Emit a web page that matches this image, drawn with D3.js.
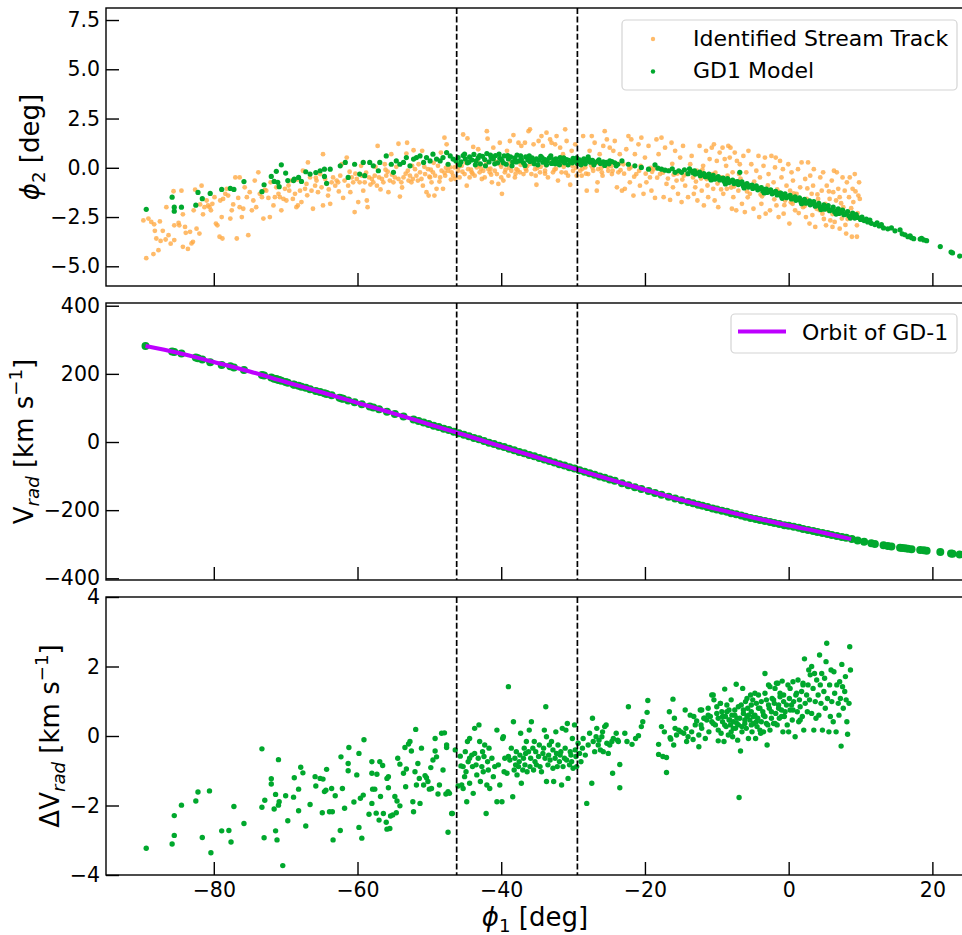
<!DOCTYPE html>
<html>
<head>
<meta charset="utf-8">
<script src="https://cdn.jsdelivr.net/npm/d3@7"></script>
<style>
  body { margin: 0; background: #fff; }
  svg { display: block; font-family: "DejaVu Sans", sans-serif; }
</style>
</head>
<body>
<div id="chart"></div>
<script>
// ---- data ----
// Identified stream track [phi1, phi2]
const trackPts = [
  [-89.8,-2.67],[-89.4,-4.59],[-89.1,-2.58],[-88.7,-2.75],[-88.4,-4.38],[-88.3,-2.87],[-88.2,-3.2],[-88.0,-3.59],[-87.7,-4.18],[-87.5,-2.72],
  [-87.4,-3.71],[-87.1,-3.2],[-86.7,-3.64],[-86.6,-2.0],[-86.3,-3.42],[-86.0,-3.85],[-85.6,-1.19],[-85.5,-2.92],[-85.5,-3.67],[-84.9,-2.8],
  [-84.8,-2.92],[-84.5,-1.16],[-84.3,-2.36],[-84.3,-4.01],[-84.0,-3.0],[-83.9,-3.3],[-83.6,-4.12],[-83.3,-3.25],[-83.1,-3.84],[-82.9,-3.76],
  [-82.8,-2.16],[-82.6,-1.11],[-82.4,-3.09],[-82.0,-3.34],[-81.9,-1.86],[-81.7,-0.91],[-81.5,-2.36],[-81.3,-2.0],[-81.0,-1.66],[-80.8,-1.91],
  [-80.6,-2.0],[-80.4,-2.16],[-80.2,-1.83],[-79.9,-1.49],[-79.7,-2.83],[-79.5,-2.92],[-79.2,-3.5],[-79.1,-1.66],[-78.9,-2.5],[-78.8,-3.59],
  [-78.7,-1.58],[-78.4,-1.32],[-78.2,-1.07],[-78.0,-1.41],[-77.7,-2.58],[-77.5,-2.16],[-77.3,-1.86],[-77.0,-0.49],[-76.8,-3.59],[-76.6,-1.53],
  [-76.4,-0.49],[-76.4,-2.0],[-76.1,-2.5],[-75.9,-2.08],[-75.7,-0.99],[-75.4,-1.49],[-75.2,-3.42],[-75.0,-1.24],[-74.7,-2.16],[-74.5,-1.66],
  [-74.3,-0.65],[-74.1,-2.0],[-73.8,-0.23],[-73.6,-1.32],[-73.3,-1.49],[-73.1,-2.58],[-72.9,-1.12],[-72.7,-1.16],[-72.4,-1.53],[-72.2,-2.5],
  [-72.1,-0.74],[-71.7,-1.91],[-71.5,-1.49],[-71.3,-0.99],[-71.0,-1.32],[-70.8,-1.49],[-70.6,-2.16],[-70.3,-1.58],[-70.1,-1.07],[-69.9,-1.66],
  [-69.5,-1.16],[-69.2,-0.65],[-69.0,-1.58],[-68.7,-1.32],[-68.5,-2.0],[-68.3,-1.91],[-68.0,-1.16],[-67.8,-1.74],[-67.6,-0.15],[-67.3,-1.07],
  [-67.1,-0.82],[-66.9,0.27],[-66.6,-0.49],[-66.4,-1.16],[-66.2,-2.08],[-65.9,-0.91],[-65.7,-0.65],[-65.5,-1.24],[-65.2,-0.32],[-65.0,-0.99],
  [-64.8,0.69],[-64.8,-1.91],[-64.5,-0.57],[-64.3,-0.82],[-64.1,-1.41],[-63.8,-1.83],[-63.6,-0.74],[-63.4,-0.49],[-63.1,-0.91],[-62.9,-0.65],
  [-62.7,-0.74],[-62.4,-0.4],[-62.2,0.18],[-62.0,-1.53],[-61.8,-0.65],[-61.5,0.52],[-61.3,-0.91],[-61.0,-1.24],[-60.8,-0.49],[-60.6,-0.74],
  [-60.4,-2.25],[-60.1,-0.57],[-59.9,-1.74],[-59.7,-0.74],[-59.4,-0.4],[-59.2,-1.16],[-59.0,-0.74],[-58.7,-1.66],[-58.6,-2.0],[-58.4,-0.49],
  [-58.0,-0.57],[-57.8,-0.74],[-57.6,-0.4],[-57.3,-0.91],[-57.2,1.11],[-57.0,-0.49],[-56.6,-0.57],[-56.4,-0.74],[-56.2,0.18],[-56.0,-0.4],
  [-55.7,-1.24],[-55.5,-0.65],[-55.3,0.69],[-55.0,-0.74],[-54.8,-0.49],[-54.3,1.22],[-54.3,-0.57],[-54.1,-1.46],[-53.9,-0.74],[-53.6,-0.49],
  [-53.2,0.72],[-53.1,1.27],[-52.9,-0.65],[-52.7,-0.4],[-52.5,-0.74],[-52.3,-0.57],[-52.2,0.89],
  [-52.0,-0.07],[-51.8,-0.4],[-51.5,0.18],[-51.3,-0.23],[-51.1,-0.57],[-51.0,0.86],[-50.9,-0.91],[-50.6,-0.32],[-50.4,-1.24],[-50.2,-0.07],
  [-50.1,-1.41],[-49.9,-0.49],[-49.7,-0.74],[-49.5,-0.23],[-49.3,-1.41],[-49.2,-0.4],[-49.0,-1.07],[-48.8,0.1],[-48.5,-0.49],[-48.4,0.77],
  [-48.3,-0.15],[-48.1,-1.07],[-47.9,1.53],[-47.8,-0.4],[-47.6,1.19],[-47.4,-0.15],[-47.1,0.02],[-46.9,-0.23],[-46.7,-0.4],[-46.5,0.02],
  [-46.4,-0.57],[-46.0,-0.15],[-45.8,-0.49],[-45.5,0.1],[-45.3,1.69],[-45.1,-0.32],[-44.8,-0.91],[-44.7,1.49],[-44.6,-0.07],[-44.4,-0.49],
  [-44.1,-0.23],[-43.9,1.06],[-43.7,-0.4],[-43.4,0.02],[-43.2,0.94],[-43.0,-0.23],[-42.7,-0.57],[-42.5,-0.15],[-42.3,-0.49],[-42.0,1.86],
  [-41.9,1.48],[-41.8,-0.07],[-41.6,-0.23],[-41.3,-0.74],[-41.1,1.02],[-40.9,-0.15],[-40.6,-0.32],[-40.4,-0.82],[-40.2,1.27],[-40.0,-0.49],
  [-39.9,-1.32],[-39.7,-0.65],[-39.5,-0.23],[-39.2,0.86],[-39.0,-0.4],[-38.8,1.36],[-38.6,-0.15],[-38.3,1.66],[-38.1,-0.49],[-37.9,-0.07],
  [-37.6,1.27],[-37.4,-0.23],[-37.2,1.11],[-36.9,-0.32],[-36.7,1.27],[-36.5,-0.15],[-36.2,1.86],[-36.0,1.95],[-35.8,-0.32],[-35.5,1.19],
  [-35.3,-0.07],[-35.1,-0.86],[-34.8,1.36],[-34.6,-0.23],[-34.4,1.61],[-34.2,1.11],[-33.9,-0.15],[-33.7,1.78],[-33.5,-0.49],[-33.2,1.44],
  [-33.0,1.27],[-32.8,-0.23],[-32.5,1.19],[-32.3,1.61],[-32.1,-0.65],[-31.8,1.02],[-31.6,-0.23],[-31.4,0.69],[-31.1,1.95],[-30.9,1.36],
  [-30.7,-0.4],[-30.4,-0.86],[-30.2,0.86],[-30.0,-0.15],[-29.7,1.19],[-29.5,-0.4],
  [-29.0,-0.15],[-28.8,-0.4],[-28.6,1.61],[-28.3,0.02],[-28.1,-1.16],[-27.9,-0.32],[-27.7,0.86],[-27.4,1.61],[-27.2,-0.15],[-27.0,1.27],
  [-26.7,-1.16],[-26.6,-0.74],[-26.5,-0.07],[-26.3,0.69],[-26.0,-0.23],[-25.8,1.11],[-25.6,1.86],[-25.3,1.44],[-25.1,-0.15],[-24.9,1.02],
  [-24.6,-0.32],[-24.4,0.86],[-24.2,1.36],[-23.9,-0.99],[-23.7,-0.23],[-23.5,0.69],[-23.2,-1.16],[-23.0,0.18],[-22.8,-1.07],[-22.6,0.94],
  [-22.3,1.61],[-22.1,-0.74],[-21.9,1.44],[-21.6,-1.41],[-21.4,0.69],[-21.2,-0.32],[-20.9,1.19],[-20.7,-0.91],[-20.5,1.53],[-20.2,-1.32],
  [-20.0,0.52],[-19.8,-0.74],[-19.5,1.11],[-19.3,-0.49],[-19.1,-1.16],[-18.8,-0.07],[-18.6,-1.53],[-18.4,1.44],[-18.1,0.69],[-17.9,-0.32],
  [-17.7,1.53],[-17.4,-1.49],[-17.2,1.02],[-17.0,-0.82],[-16.7,-0.15],[-16.5,-1.63],[-16.3,1.27],[-16.1,-0.99],[-15.8,0.86],[-15.6,-0.65],
  [-15.4,-1.32],[-15.1,0.52],[-14.9,-1.74],[-14.7,1.11],[-14.4,-0.91],[-14.2,-0.32],[-14.0,-1.49],
  [-13.7,0.18],[-13.5,0.6],[-13.3,-0.49],[-13.2,-1.32],[-13.0,-0.99],[-12.8,-0.15],[-12.7,-1.66],[-12.4,1.11],[-12.1,-1.16],[-11.9,0.1],
  [-11.8,-1.91],[-11.5,0.86],[-11.4,-0.57],[-11.2,-1.49],[-11.0,0.44],[-10.7,1.02],[-10.6,-0.32],[-10.5,-1.07],[-10.4,1.19],[-10.3,-1.66],
  [-10.0,0.35],[-9.8,-2.0],[-9.6,0.77],[-9.3,-0.49],[-9.2,1.02],[-9.1,-1.32],[-8.9,0.44],[-8.7,0.1],[-8.6,-1.07],[-8.4,1.11],
  [-8.2,0.52],[-8.1,1.02],[-7.9,-2.08],[-7.8,-0.23],[-7.7,-1.49],[-7.5,0.77],[-7.3,-2.16],[-7.2,0.35],[-7.0,-1.16],[-6.9,-0.32],
  [-6.8,0.18],[-6.5,-1.83],[-6.3,0.6],[-6.1,-2.25],[-5.9,-0.23],[-5.6,0.86],[-5.4,-1.32],[-5.2,0.18],[-4.9,-2.08],[-4.7,-0.99],
  [-4.5,-0.15],[-4.2,0.6],[-4.1,-2.5],[-4.0,-0.49],[-3.8,-1.83],[-3.5,0.1],[-3.3,0.52],[-3.2,-2.33],[-3.1,-1.16],[-2.8,-0.32],
  [-2.6,-2.16],[-2.4,0.6],[-2.1,-0.74],[-1.9,0.02],[-1.8,0.52],[-1.7,-1.91],[-1.4,-2.5],[-1.3,-1.24],[-1.2,0.35],[-1.0,-0.49],
  [-0.8,-0.07],[-0.7,-2.33],[-0.5,-1.66],[-0.3,-0.91],[-0.05,0.18],[0.1,-2.83],[0.2,-1.16],[0.4,-0.23],[0.55,-1.83],[0.6,-0.65],
  [0.9,-2.16],[1.1,-1.32],[1.3,-0.07],[1.6,-0.99],[1.8,0.27],[2.0,-2.0],[2.3,-0.57],[2.4,-2.5],[2.5,-1.58],[2.7,0.27],
  [2.9,-2.83],[3.0,-0.4],[3.2,-1.32],[3.4,-0.91],[3.5,-0.07],[3.7,-3.0],[3.9,-2.08],[4.1,-1.58],[4.4,-0.49],[4.6,-1.16],
  [4.7,-2.33],[4.8,-0.23],[5.1,-1.83],[5.2,-2.92],[5.3,-0.91],[5.5,-2.16],[5.7,-1.58],[5.8,-2.67],[6.0,-0.65],[6.1,-3.0],
  [6.2,-1.24],[6.3,-0.15],[6.5,-2.16],[6.6,-1.66],[6.7,-0.23],[6.9,-1.07],[7.1,-3.09],[7.1,-1.49],[7.4,-2.58],[7.5,-0.49],
  [7.6,-2.0],[7.8,-1.16],[8.0,-3.34],[8.1,-0.74],[8.3,-2.25],[8.4,-1.49],[8.5,-0.49],[8.8,-3.5],[8.9,-1.07],[9.0,-1.74],
  [9.2,-0.32],[9.5,-2.92],[9.5,-3.5],[9.7,-1.41],[9.8,-0.74],[9.9,-1.58],
  [-58.8,-0.25],[-55.8,-0.2],[-53.3,-0.3],[-49.8,-0.1],[-47.9,-0.25],[-45.9,0.05],[-44.2,-0.1],[-43.0,0.12],[-41.5,-0.05],[-40.1,0.15],
  [-38.9,0.0],[-37.7,-0.12],[-36.4,0.08],[-35.0,-0.02],[-33.8,0.12],[-32.6,-0.1],[-31.3,0.05],[-30.1,0.1],[-28.7,-0.05],[-27.5,0.12],
  [-26.1,-0.02],[-24.7,0.08],[-23.4,-0.12],[-22.0,0.02],[-20.8,-0.15],[-19.0,-0.2],[-17.5,-0.25],[-16.0,-0.35],[-14.6,-0.4],[-12.2,-0.55],
  [-9.9,-0.8],[-8.0,-1.0],[-5.8,-1.2],[-3.9,-1.35],[-2.0,-1.6],[0.3,-1.75],[2.2,-1.95],[4.3,-2.15],[6.1,-2.35],[8.2,-2.6],
  [-69.6,-0.9],[-68.4,-0.6],[-67.0,-1.4],[-65.8,-0.5],[-64.0,-1.1],[-62.6,-1.2],[-61.1,-0.2],
  [-60.3,-0.3],[-59.5,0.1],[-58.2,-0.85],[-57.5,0.05],[-56.8,-1.1],[-56.1,-0.1],[-55.2,-0.35],[-54.6,0.05],[-53.8,-1.0],[-53.0,-0.15],
  [-52.4,0.1],[-51.6,-0.65],[-50.7,0.05],[-50.0,-0.45],[-49.4,0.25],[-48.6,-0.7],[-47.7,0.0],[-47.0,-0.6],[-46.1,0.2],[-45.4,-0.2],
  [-44.9,0.25],[-44.0,-0.3],[-43.3,0.3],[-42.8,-0.05],[-42.1,0.2],[-41.4,-0.35],[-40.7,0.3],[-40.0,0.05],[-39.4,-0.1],[-38.7,0.25],
  [-38.0,-0.3],[-37.3,0.15],[-36.6,-0.05],[-35.9,0.2],[-35.2,-0.4],[-34.5,0.05],[-33.9,-0.3],[-33.1,0.25],[-32.4,-0.05],[-31.7,0.15],
  [-31.0,-0.25],[-30.3,0.3],[-29.6,0.0],[-28.9,0.2],[-28.2,-0.3],[-27.3,0.0],[-26.6,0.25],[-25.9,-0.4],[-25.2,0.05],[-24.5,-0.15],
  [-23.6,0.2],[-22.9,-0.3],[-22.2,-0.05],[-21.5,-0.45],[-20.6,0.1],[-19.9,-0.3],[-19.2,0.0],[-18.3,-0.5],[-17.6,-0.1],[-16.8,-0.55],
  [-16.2,0.2],[-15.5,-0.3],[-14.8,-0.6],
  [-12.9,-0.7],[-12.0,-0.1],[-11.3,-0.9],[-10.2,-0.25],[-9.4,-1.1],[-8.5,-0.4],[-7.6,-0.95],[-6.7,-0.55],[-5.7,-1.5],[-4.8,-0.7],
  [-3.7,-1.45],[-2.9,-0.9],[-1.6,-1.1],[-0.6,-1.9],[0.7,-1.3],[1.4,-2.3],[2.6,-1.05],[3.3,-2.4],[4.0,-1.35],[4.9,-2.6],
  [5.6,-1.2],[6.4,-2.75],[7.3,-1.8],[7.9,-2.9],[8.7,-2.05],[9.3,-1.2],[9.6,-2.3]
];

// GD1 model [phi1, phi2]
const modelPts = [
  [-89.4,-2.11],[-85.8,-1.49],[-85.5,-2.0],[-85.5,-2.2],[-84.5,-2.0],[-82.5,-1.9],[-82.2,-1.25],[-81.6,-1.57],[-80.5,-1.3],[-78.9,-1.1],
  [-77.7,-1.05],[-77.2,-1.1],[-75.8,-0.7],[-73.3,-1.21],[-73.0,-0.86],[-72.0,-0.44],[-71.6,-0.69],[-71.3,-0.18],[-71.1,-0.74],[-70.9,-0.96],
  [-70.6,0.15],[-70.0,-0.27],[-69.7,-0.65],[-68.9,-0.65],[-68.8,-0.57],[-68.2,-0.49],[-67.8,-0.69],[-67.2,-0.2],[-66.6,-0.32],[-65.8,-0.24],
  [-65.2,-0.15],[-64.6,-0.07],[-64.6,-0.44],[-64.3,-0.79],
  [-63.8,-0.07],[-62.4,0.1],[-61.7,0.27],[-61.3,-0.49],[-60.4,0.18],[-59.7,-0.32],[-59.2,0.27],[-59.0,-0.4],[-58.3,0.27],[-57.8,0.1],
  [-57.1,-0.15],[-56.9,0.27],[-56.0,0.6],[-55.3,0.18],[-55.0,-0.23],[-54.6,0.35],[-54.1,0.18],[-53.6,0.27],[-53.2,0.52],[-52.7,0.1],
  [-52.2,0.44],[-51.8,0.52],[-51.3,0.6],[-50.8,0.27],[-50.4,0.52],[-49.9,0.35],[-49.5,0.69],[-49.0,0.44],[-48.5,0.35],[-48.1,0.52],
  [-47.6,0.77],[-47.4,0.18],[-47.1,0.6],[-46.7,0.44],
  [-46.3,0.35],[-46.0,0.52],[-45.6,0.3],[-45.3,0.62],[-45.0,0.45],[-44.7,0.25],[-44.4,0.55],[-44.1,0.4],[-43.8,0.68],[-43.5,0.35],
  [-43.2,0.5],[-42.9,0.2],[-42.6,0.58],[-42.3,0.42],[-42.0,0.72],[-41.7,0.3],[-41.4,0.52],[-41.1,0.45],[-40.8,0.62],[-40.5,0.25],
  [-40.2,0.48],[-39.9,0.38],[-39.6,0.6],[-39.3,0.18],[-39.0,0.45],[-38.7,0.55],[-38.4,0.3],[-38.1,0.5],[-37.8,0.65],[-37.5,0.35],
  [-37.2,0.42],[-36.9,0.25],[-36.6,0.55],[-36.3,0.4],[-36.0,0.32],[-35.7,0.5],[-35.4,0.2],[-35.1,0.45],[-34.8,0.38],[-34.5,0.58],
  [-34.2,0.28],[-33.9,0.42],[-33.6,0.35],[-33.3,0.5],[-33.0,0.22],[-32.7,0.4],[-32.4,0.45],[-32.1,0.3],[-31.8,0.52],[-31.5,0.35],
  [-31.2,0.25],[-30.9,0.42],[-30.6,0.38],[-30.3,0.3],[-30.0,0.48],[-29.7,0.35],[-29.4,0.22],[-29.1,0.4],[-28.8,0.3],[-28.5,0.45],
  [-28.2,0.35],[-27.9,0.55],[-27.6,0.28],[-27.3,0.38],[-27.0,0.25],[-26.6,0.33],[-26.2,0.22],[-25.8,0.3],[-25.4,0.28],[-25.0,0.2],
  [-24.6,0.32],[-24.2,0.25],[-23.8,0.18],[-23.2,0.35],[-22.3,0.18],[-21.4,0.1],[-20.5,0.02],[-19.5,-0.07],[-18.6,0.15],[-18.2,-0.02],
  [-17.7,-0.07],[-17.2,-0.12],[-16.7,-0.15],[-16.2,-0.05],[-15.8,-0.23],[-15.3,-0.15],[-14.9,-0.23],[-14.5,-0.1],[-14.0,-0.3],[-13.6,-0.15],
  [-13.3,-0.25],[-13.0,-0.32],[-12.6,-0.28],[-12.3,-0.4],[-12.0,-0.35],[-11.6,-0.45],[-11.3,-0.38],[-11.0,-0.5],[-10.6,-0.45],[-10.3,-0.58],
  [-10.0,-0.52],[-9.6,-0.62],[-9.3,-0.55],[-9.0,-0.68],[-8.6,-0.62],[-8.3,-0.75],[-8.0,-0.68],[-7.6,-0.8],[-7.3,-0.72],[-7.0,-0.85],
  [-6.8,-0.23],[-6.6,-0.8],[-6.3,-0.92],[-6.0,-0.85],[-5.6,-0.98],[-5.3,-0.9],[-5.0,-1.05],[-4.6,-1.0],[-4.3,-1.12],[-4.0,-1.05],
  [-3.6,-1.18],[-3.3,-1.1],[-3.0,-1.25],[-2.6,-1.2],[-2.3,-1.32],[-2.0,-1.25],[-1.6,-1.38],[-1.3,-1.3],[-1.0,-1.45],[-0.6,-1.4],
  [-0.3,-1.52],[0.0,-1.45],[0.4,-1.58],[0.7,-1.52],[1.0,-1.65],[1.4,-1.6],[1.7,-1.72],[2.0,-1.68],[2.4,-1.8],[2.7,-1.75],
  [3.0,-1.88],[3.4,-1.82],[3.7,-1.95],[4.0,-1.9],[4.4,-2.02],[4.7,-1.98],[5.0,-2.1],[5.4,-2.05],[5.7,-2.18],[6.0,-2.12],
  [6.4,-2.25],[6.7,-2.2],[7.0,-2.32],[7.4,-2.28],[7.7,-2.38],[8.0,-2.35],[8.4,-2.45],[8.8,-2.42],[9.2,-2.55],[9.6,-2.52],
  [10.0,-2.62],[10.5,-2.68],[11.0,-2.75],[11.5,-2.82],[12.0,-2.88],[12.6,-2.95],[13.2,-3.05],[13.8,-3.1],[14.3,-3.05],[15.5,-3.15],
  [15.8,-3.35],[16.2,-3.4],[16.6,-3.5],[17.1,-3.55],[18.3,-3.62],[18.8,-3.66],[19.2,-3.7],[21.1,-4.0],[22.6,-4.28],[22.8,-4.32],[23.8,-4.48],
  [-45.8,0.15],[-45.1,0.7],[-44.5,0.3],[-43.6,0.15],[-43.0,0.62],[-42.2,0.1],[-41.5,0.65],[-40.9,0.2],[-40.3,0.7],[-39.7,0.25],
  [-39.1,0.62],[-38.5,0.1],[-37.9,0.3],[-37.3,0.6],[-36.7,0.12],[-36.1,0.6],[-35.5,0.35],[-34.9,0.15],[-34.3,0.5],[-33.7,0.15],
  [-33.1,0.6],[-32.5,0.2],[-31.9,0.15],[-31.3,0.5],[-30.7,0.15],[-30.1,0.25],[-29.5,0.5],[-28.9,0.15],[-28.3,0.2],[-27.7,0.4],
  [-27.1,0.15],[-26.4,0.4],[-25.6,0.12],[-24.9,0.35],[-24.0,0.1],
  [-13.8,-0.05],[-13.1,-0.15],[-12.4,-0.22],[-11.8,-0.3],[-11.1,-0.32],[-10.5,-0.38],[-9.8,-0.45],[-9.1,-0.52],[-8.5,-0.55],[-7.8,-0.62],
  [-7.1,-0.7],[-6.5,-0.72],[-5.8,-0.8],[-5.1,-0.88],[-4.5,-0.92],[-3.8,-1.0],[-3.1,-1.08],[-2.5,-1.12],[-1.8,-1.2],[-1.1,-1.28],
  [-0.5,-1.32],[0.2,-1.4],[0.9,-1.48],[1.5,-1.52],[2.2,-1.6],[2.9,-1.68],[3.5,-1.72],[4.2,-1.8],[4.9,-1.88],[5.5,-1.92],
  [6.2,-2.0],[6.9,-2.08],[7.5,-2.15],[8.2,-2.22],[8.9,-2.3],[9.4,-2.38],[10.2,-2.5],[10.8,-2.6],[11.3,-2.65],[12.3,-2.8],
  [12.9,-2.88],[14.8,-3.2],[16.9,-3.45],[17.4,-3.6],[18.5,-3.58],
  [-10.8,-0.62],[-8.8,-0.82],[-6.2,-1.02],[-3.4,-1.28],[-0.9,-1.55],[1.8,-1.82],[4.5,-2.12],[6.6,-2.35],[8.6,-2.55]
];

// GD1 model radial velocity [phi1, Vrad]
const modelVrad = [
  [-89.5,282],[-85.8,266],[-85.5,264],[-84.5,260],[-82.5,248],[-82.2,246],[-81.6,242],[-80.5,234],[-78.9,226],[-77.7,222],
  [-77.2,219],[-75.8,211],[-73.3,197],[-73.0,195],[-72.0,189],[-71.6,186],[-71.3,185],[-71.1,183],[-70.9,182],[-70.6,180],
  [-70.0,176],[-69.7,174],[-68.9,169],[-68.8,168],[-68.2,165],[-67.8,162],[-67.2,159],[-66.6,155],[-65.8,150],[-65.2,147],
  [-64.6,143],[-64.3,141],[-63.6,137],[-62.5,130],[-62.2,128],[-62.0,127],[-61.3,122],[-60.4,117],[-59.4,111],[-58.3,104],
  [-57.8,101],[-57.0,96],[-55.9,89],[-54.8,82],[-53.6,75],[-52.2,66],
  [-51.5,62],[-50.8,57],[-50.1,53],[-49.4,48],[-48.7,44],[-48.0,39],[-47.3,35],[-46.6,30],[-45.9,26],[-45.2,21],
  [-44.5,17],[-43.8,12],[-43.1,8],[-42.4,3],[-41.7,-2],[-41.0,-6],[-40.3,-11],[-39.6,-15],[-38.9,-20],[-38.2,-24],
  [-37.5,-29],[-36.8,-33],[-36.1,-38],[-35.4,-42],[-34.7,-47],[-34.0,-51],[-33.3,-56],[-32.6,-60],[-31.9,-65],[-31.2,-69],
  [-30.5,-74],[-29.8,-78],[-29.1,-83],[-28.4,-87],[-27.7,-92],[-27.0,-96],[-26.3,-101],[-25.6,-105],[-24.9,-110],[-24.2,-114],
  [-23.2,-121],[-22.3,-127],[-21.4,-133],[-20.5,-138],[-19.5,-144],[-18.6,-150],[-17.7,-155],[-16.7,-161],[-15.8,-166],[-14.9,-171],
  [-14.0,-176],[-13.3,-180],[-12.6,-184],[-12.0,-187],[-11.3,-191],[-10.6,-195],[-10.0,-198],[-9.3,-202],[-8.6,-205],[-8.0,-209],
  [-7.3,-212],[-6.6,-216],[-6.0,-219],[-5.3,-223],[-4.6,-226],[-4.0,-229],[-3.3,-232],[-2.6,-235],[-2.0,-238],[-1.3,-241],
  [-0.6,-244],[0.0,-246],[0.7,-249],[1.4,-252],[2.0,-255],[2.7,-258],[3.4,-261],[4.0,-264],[4.7,-267],[5.4,-270],
  [6.0,-273],[6.7,-276],[7.4,-279],[8.0,-281],[8.8,-285],[9.6,-289],[10.5,-293],[11.5,-297],[12.0,-299],[13.2,-303],
  [13.8,-305],[14.3,-307],[15.5,-310],[15.8,-311],[16.2,-312],[16.6,-313],[17.1,-315],[18.3,-317],[18.8,-318],[19.2,-319],
  [21.1,-323],[22.6,-327],[22.8,-328],[23.8,-330]
];

// Orbit of GD-1 [phi1, Vrad]
const orbitVrad = [
  [-89.5,282],[-85,262],[-80,235],[-75,207],[-70,176],[-65,146],[-60,115],[-55,84],[-50,52],[-45,20],
  [-40,-13],[-35,-45],[-30,-77],[-25,-109],[-20,-140],[-15,-170],[-10,-197],[-5,-222],[0,-245],[5,-267],[8.7,-285]
];

// Delta Vrad [phi1, dV]
const dvPts = [
  [-89.4,-3.23],[-85.8,-3.11],[-85.5,-2.29],[-85.5,-2.86],[-84.5,-1.99],[-82.5,-1.87],[-82.2,-1.61],[-81.6,-2.92],[-80.6,-1.58],[-80.4,-3.36],
  [-78.9,-2.73],[-77.9,-2.72],[-77.6,-3.05],[-77.2,-2.03],[-75.8,-2.52],[-73.3,-0.37],[-73.3,-2.05],[-73.0,-2.93],[-72.9,-1.85],[-72.0,-1.23],
  [-72.0,-1.38],[-71.6,-2.1],[-71.4,-1.68],[-71.4,-2.73],[-71.2,-2.99],[-71.0,-0.68],[-71.0,-1.99],[-70.9,-1.89],[-70.4,-3.73],[-70.0,-1.72],
  [-69.7,-2.44],[-68.9,-1.76],[-68.8,-1.2],[-68.2,-2.15],[-68.2,-1.53],[-67.9,-0.9],[-67.6,-1.06],[-67.2,-2.59],[-66.6,-1.97],[-65.9,-1.17],
  [-65.8,-1.44],[-65.2,-1.22],[-64.9,-2.21],[-64.8,-1.24],[-64.6,-1.6],[-64.4,-1.56],[-64.3,-0.96],[-63.9,-2.18],
  [-63.6,-1.51],[-63.5,-2.18],[-63.4,-2.99],[-63.1,-1.72],[-62.4,-2.72],[-62.3,-0.6],[-62.1,-1.51],[-61.8,-2.08],[-61.3,-0.79],[-61.3,-1.0],
  [-61.2,-0.33],[-60.5,-1.9],[-60.1,-1.12],[-59.8,-0.5],[-59.8,-2.63],[-59.4,-2.94],[-59.2,-1.7],[-59.1,-0.11],[-59.6,-1.79],[-58.4,-2.25],
  [-58.0,-0.74],[-58.0,-1.07],[-58.0,-1.94],[-57.9,-1.53],[-57.6,-1.53],[-57.4,-2.22],[-57.3,-1.1],[-57.0,-2.42],[-56.9,-0.74],[-56.8,-1.74],
  [-56.5,-0.85],[-56.4,-2.23],[-56.0,-2.48],[-55.9,-2.68],[-55.9,-1.22],[-55.7,-1.17],[-55.7,-1.49],[-55.5,-2.66],[-55.4,-2.3],[-55.1,-2.27],
  [-54.8,-1.74],[-54.6,-2.21],[-54.5,-1.87],[-54.4,-0.64],[-54.1,-0.81],[-54.1,-2.01],[-53.6,-1.07],[-53.4,-0.33],[-53.3,-1.46],[-53.2,-0.95],
  [-52.9,-0.23],[-52.7,-0.16],[-52.5,-0.43],[-52.3,-1.89],[-52.2,-2.18],[-52.0,-1.03],[-51.9,0.19],[-51.8,-1.41],[-51.6,-0.79],[-51.4,-1.22],
  [-51.3,-1.94],[-51.1,-0.35],[-50.8,-1.41],[-50.6,-1.14],[-50.4,-1.2],[-50.2,-1.31],[-50.0,-1.53],[-49.8,-0.91],[-49.7,-1.51],[-49.5,-0.69],
  [-49.2,-0.07],[-49.2,-0.43],[-49.0,-0.6],[-48.8,-1.67],[-48.6,-1.41],[-48.3,0.08],[-48.1,-0.98],[-47.9,0.09],[-47.7,-1.67],[-47.6,-0.26],
  [-47.6,-0.33],[-47.4,-2.77],[-47.4,-1.6],[-47.2,-1.65],[-46.9,-2.23],[-46.8,-2.23],[-46.4,-0.4],[-46.0,-1.44],[-45.7,-0.58],[-45.6,-0.86],
  [-45.5,-1.41],[-45.3,-0.88],[-45.3,-1.51],[-45.1,-1.17],[-45.0,-0.45],[-44.9,-1.03],[-44.8,-1.89],[-44.7,-0.16],[-44.6,-0.74],[-44.4,-0.64],
  [-44.4,-0.07],[-44.4,-1.36],[-44.1,-0.55],[-44.0,-0.88],[-43.9,-1.65],[-43.7,0.22],[-43.7,-0.5],[-43.5,-0.83],[-43.4,-1.12],[-43.2,-0.64],
  [-43.1,0.32],[-43.0,-0.16],[-42.9,-1.31],[-42.7,-0.88],[-42.6,-0.45],[-42.5,-1.03],[-42.4,-0.59],[-42.3,-0.26],[-42.1,-2.23],[-42.0,-1.41],
  [-41.9,-0.74],[-41.8,-0.98],[-41.7,-0.35],[-41.6,-1.51],[-41.3,-0.64],[-41.1,-1.17],[-40.9,-0.88],[-40.6,0.17],[-40.6,-1.89],[-40.4,-0.83],
  [-40.2,-1.41],[-39.9,-1.89],[-39.8,-0.07],[-39.7,-0.02],[-39.6,-1.03],[-39.5,-0.64],[-39.2,-1.07],[-39.0,1.42],[-39.0,-0.59],[-38.8,-0.69],
  [-38.6,-0.35],[-38.4,-1.75],[-38.3,0.41],[-38.2,-0.98],[-38.1,-0.64],[-38.0,-0.83],[-37.9,-0.45],[-37.8,-1.12],[-37.6,-0.88],[-37.5,-0.74],
  [-37.4,-0.55],[-37.3,0.08],[-37.2,-1.36],[-37.0,-0.98],[-36.9,-0.64],[-36.8,-0.35],[-36.7,-0.83],[-36.6,-0.5],[-36.5,-0.16],[-36.4,-1.03],
  [-36.2,-0.45],[-36.1,0.17],[-36.0,-0.88],[-35.9,-0.64],[-35.8,0.41],[-35.6,-0.35],[-35.5,-0.98],[-35.4,-0.16],[-35.3,-0.74],[-35.2,-0.45],
  [-35.1,-0.83],[-34.8,-0.59],[-34.7,-0.26],[-34.6,-0.88],[-34.4,-1.03],[-34.2,-0.5],[-34.1,-0.35],[-34.0,0.17],[-33.9,-0.64],[-33.8,0.84],
  [-33.7,-1.31],[-33.7,-0.02],[-33.5,-0.83],[-33.4,-0.55],[-33.3,-0.26],[-33.2,-0.69],[-33.0,-0.16],[-32.8,-0.93],[-32.8,-0.4],[-32.7,-1.31],
  [-32.5,-0.64],[-32.4,0.12],[-32.3,-0.5],[-32.2,-0.88],[-32.1,-0.26],[-31.9,-0.74],[-31.8,-0.55],[-31.7,-0.45],[-31.6,-1.41],[-31.5,0.22],
  [-31.4,-0.88],[-31.2,-0.64],[-31.1,-0.35],[-31.0,0.17],[-30.9,-0.69],[-30.8,0.36],[-30.7,-1.22],[-30.5,-0.83],[-30.4,-0.45],[-30.3,-0.55],
  [-30.2,-0.74],[-30.1,-0.07],[-30.0,-0.93],[-29.8,0.32],[-29.7,-0.4],[-29.6,-0.59],[-29.5,-0.88],
  [-29.3,-0.21],[-29.1,-0.5],[-28.9,-0.74],[-28.7,-0.35],[-28.6,-0.07],[-28.3,-0.55],[-28.1,-1.94],[-27.9,-0.26],[-27.7,0.08],[-27.4,-1.36],
  [-27.3,0.51],[-27.2,-0.16],[-27.0,-0.45],[-26.8,-0.02],[-26.7,0.22],[-26.5,-0.26],[-26.4,-0.12],[-26.2,-0.4],[-26.0,-0.02],[-25.9,0.12],
  [-25.8,-0.45],[-25.6,0.27],[-25.4,0.32],[-25.3,-0.21],[-25.1,-0.5],[-24.9,-0.26],[-24.6,-0.16],[-24.5,-1.07],[-24.4,-0.07],[-24.0,0.08],
  [-23.8,-0.12],[-23.7,-0.16],[-23.5,-0.82],[-23.5,-1.49],[-22.8,0.08],[-22.5,-0.16],[-22.3,0.84],
  [-21.8,-0.24],[-21.3,-0.07],[-20.9,0.01],[-20.5,0.27],[-20.3,0.41],[-19.7,0.68],[-19.6,1.02],[-18.1,-0.24],[-18.1,-0.53],[-17.7,0.27],
  [-17.5,-0.59],[-17.3,0.12],[-17.0,-0.62],[-17.0,-1.05],[-16.6,0.7],[-16.5,-0.05],[-16.4,-0.09],[-16.1,1.06],[-16.0,-0.26],[-15.9,0.51],
  [-15.8,0.22],[-15.6,0.03],[-15.3,0.17],[-15.0,0.12],[-14.6,0.08],[-14.4,0.75],[-14.3,0.22],[-14.2,-0.16],[-14.0,-0.02],[-13.7,0.6],
  [-13.5,0.12],[-13.3,-0.1],[-13.2,0.56],[-13.0,0.32],[-12.8,0.43],[-12.5,0.03],[-12.5,-0.31],[-12.3,0.75],[-12.2,0.32],[-12.1,0.22],
  [-11.8,0.51],[-11.6,-0.07],[-11.4,0.46],[-11.2,0.8],[-11.1,0.12],[-10.9,0.56],[-10.7,0.41],[-10.5,1.18],[-10.4,1.04],[-10.2,0.32],
  [-10.0,0.65],[-9.8,-0.14],[-9.8,0.51],[-9.5,0.94],[-9.4,0.08],[-9.3,0.7],[-9.2,0.41],[-9.0,-0.16],[-8.9,1.35],[-8.8,0.56],
  [-8.7,0.27],[-8.6,0.89],[-8.4,0.03],[-8.3,0.46],[-8.3,0.75],[-8.1,0.32],[-8.0,0.12],[-7.9,0.6],[-7.8,-0.02],[-7.7,0.41],
  [-7.5,0.75],[-7.4,0.22],[-7.3,1.49],[-7.2,0.51],[-7.1,-0.12],[-7.0,0.32],[-6.9,-1.77],[-6.7,-0.43],[-6.6,0.89],[-6.5,0.12],
  [-6.4,1.37],[-6.3,0.65],[-6.1,0.36],[-6.0,0.99],[-5.9,0.22],[-5.8,0.56],[-5.7,0.8],[-5.6,-0.07],[-5.4,0.46],[-5.3,1.18],
  [-5.2,0.7],[-5.1,0.12],[-5.0,1.04],[-4.9,0.36],[-4.7,0.6],[-4.6,-0.07],[-4.5,0.94],[-4.4,0.27],[-4.3,0.51],[-4.2,1.18],
  [-4.0,0.8],[-3.9,0.08],[-3.8,0.41],[-3.6,0.7],[-3.5,0.12],[-3.3,1.8],[-3.3,0.56],[-3.1,1.04],[-3.0,-0.26],[-2.9,0.32],
  [-2.8,1.47],[-2.7,0.8],[-2.6,0.17],[-2.4,0.51],[-2.3,1.08],[-2.1,0.36],[-2.0,0.94],[-1.9,1.37],[-1.8,0.65],[-1.6,0.32],
  [-1.5,1.52],[-1.4,0.89],[-1.3,0.51],[-1.2,1.23],[-1.0,0.75],[-0.9,1.58],[-0.8,0.12],[-0.7,0.99],[-0.6,0.56],[-0.5,0.7],
  [-0.2,0.32],[-0.1,1.47],[0.0,0.12],[0.1,1.08],[0.2,0.75],[0.4,0.89],[0.5,0.46],[0.6,1.56],[0.7,0.99],[0.9,-0.02],
  [1.0,1.18],[1.2,0.7],[1.3,1.61],[1.4,0.41],[1.5,1.04],[1.6,0.84],[1.8,1.28],[1.9,0.56],[2.0,1.47],[2.1,0.17],
  [2.2,2.22],[2.3,0.94],[2.5,1.18],[2.6,0.7],[2.7,1.47],[2.8,1.9],[2.9,1.04],[3.0,1.76],[3.2,0.65],[3.2,2.0],
  [3.4,1.37],[3.5,0.17],[3.6,1.8],[3.7,0.99],[3.8,0.51],[3.9,1.61],[4.1,1.18],[4.2,0.6],[4.3,2.33],[4.4,1.47],
  [4.5,0.94],[4.6,1.8],[4.7,0.17],[4.9,1.28],[5.0,1.66],[5.1,0.8],[5.2,2.14],[5.3,2.67],[5.4,1.08],[5.6,0.12],
  [5.7,1.47],[5.8,0.56],[5.9,1.9],[6.0,0.99],[6.2,0.41],[6.3,1.85],[6.4,1.23],[6.6,0.12],[6.7,1.47],[6.9,0.94],
  [7.0,0.6],[7.1,1.56],[7.2,1.08],[7.3,-0.29],[7.4,2.06],[7.5,1.42],[7.6,0.8],[7.8,1.28],[7.9,1.71],[8.0,1.04],
  [8.1,0.41],[8.2,0.05],[8.4,0.94],[8.5,2.57],[8.6,1.9],
  [-12.1,0.75],[-11.7,0.51],[-11.2,0.6],[-10.7,1.18],[-10.5,0.36],[-10.0,0.84],[-9.8,0.17],[-9.5,0.94],[-9.2,0.56],[-8.9,0.32],
  [-8.6,0.7],[-8.2,0.46],[-8.0,1.04],[-7.7,0.22],[-7.5,0.6],[-7.2,0.36],[-7.0,0.84],[-6.8,0.51],[-6.5,0.27],[-6.3,0.75],
  [-6.1,0.46],[-5.8,1.08],[-5.6,0.6],[-5.2,0.32],[-5.2,0.89],[-4.9,0.56],[-4.7,1.23],[-4.5,0.41],[-4.2,0.8],[-4.0,0.17],
  [-3.8,0.99],[-3.5,0.6],[-3.3,1.23],[-3.1,0.36],[-2.8,0.89],[-2.6,1.42],[-2.4,0.7],[-2.1,1.04],[-1.9,0.36],[-1.7,1.52],
  [-1.4,0.8],[-1.2,1.13],[-1.0,0.56],[-0.7,1.18],[-0.3,0.89],[0.2,1.37],[0.6,0.75],[1.1,1.23],[1.6,0.46],[2.0,1.52]
];

const guideLines = [-46.2, -29.4];
const xTicks = [-80, -60, -40, -20, 0, 20];
const phi2Ticks = [-5, -2.5, 0, 2.5, 5, 7.5];
const vTicks = [-400, -200, 0, 200, 400];
const dvTicks = [-4, -2, 0, 2, 4];

// ---- layout ----
const width = 962, height = 935;
const left = 106, right = 964;
const orange = "#ffaa45", green = "#00a82d", purple = "#bd00ff";

const x = d3.scaleLinear().domain([-95, 24.4]).range([left, right]);
const yTrack = d3.scaleLinear().domain([-6.0, 8.11]).range([286, 8]);
const yVrad = d3.scaleLinear().domain([-405, 408]).range([580, 303]);
const yDv = d3.scaleLinear().domain([-4, 4]).range([875, 597]);

const svg = d3.select("#chart").append("svg")
    .attr("width", width)
    .attr("height", height);

const defs = svg.append("defs");

function makePanel(id, y) {
    const [bottom, top] = y.range();
    defs.append("clipPath").attr("id", id)
        .append("rect")
        .attr("x", left).attr("y", top)
        .attr("width", right - left).attr("height", bottom - top);
    const g = svg.append("g");
    const plot = g.append("g").attr("clip-path", `url(#${id})`);
    return { g, plot, top, bottom };
}

function finishPanel(p, y, ticks, fmt, xLabels) {
    // dashed guide lines
    p.plot.selectAll("line.guide")
        .data(guideLines)
        .join("line")
        .attr("class", "guide")
        .attr("x1", d => x(d)).attr("x2", d => x(d))
        .attr("y1", p.top).attr("y2", p.bottom)
        .attr("stroke", "#000")
        .attr("stroke-width", 1.7)
        .attr("stroke-dasharray", "6,2.6");

    const ya = p.g.append("g")
        .attr("transform", `translate(${left},0)`)
        .call(d3.axisLeft(y).tickValues(ticks).tickFormat(fmt).tickSize(-13).tickPadding(6));
    const xa = p.g.append("g")
        .attr("transform", `translate(0,${p.bottom})`)
        .call(d3.axisBottom(x).tickValues(xTicks).tickSize(-13).tickPadding(7)
            .tickFormat(xLabels ? d3.format("d") : () => ""));
    for (const a of [ya, xa]) {
        a.select(".domain").remove();
        a.selectAll(".tick line").attr("stroke", "#000").attr("stroke-width", 1.4);
        a.selectAll(".tick text").attr("fill", "#000")
            .style("font-size", "20.5px")
            .style("font-family", "'DejaVu Sans', sans-serif");
    }
    p.g.append("rect")
        .attr("x", left).attr("y", p.top)
        .attr("width", right - left).attr("height", p.bottom - p.top)
        .attr("fill", "none").attr("stroke", "#000").attr("stroke-width", 1.4);
}

// label made of pieces: {t, it, sub, sup}
function mathText(parent, parts, size) {
    const t = parent.append("text")
        .attr("text-anchor", "middle")
        .attr("fill", "#000")
        .style("font-size", size + "px");
    let shift = 0;
    for (const p of parts) {
        const s = t.append("tspan").text(p.t);
        let target = 0;
        if (p.sub) target = size * 0.22;
        if (p.sup) target = -size * 0.42;
        if (p.sub || p.sup) s.style("font-size", (size * 0.7) + "px");
        if (p.it) s.style("font-style", "italic");
        if (target - shift !== 0) s.attr("dy", target - shift);
        shift = target;
    }
    return t;
}

// ---- panel 1: stream track ----
const p1 = makePanel("clip1", yTrack);
p1.plot.append("g").selectAll("circle")
    .data(trackPts)
    .join("circle")
    .attr("cx", d => x(d[0]))
    .attr("cy", d => yTrack(d[1]))
    .attr("r", 2.4)
    .attr("fill", orange)
    .attr("fill-opacity", 0.8);
p1.plot.append("g").selectAll("circle")
    .data(modelPts)
    .join("circle")
    .attr("cx", d => x(d[0]))
    .attr("cy", d => yTrack(d[1]))
    .attr("r", 2.6)
    .attr("fill", green);
finishPanel(p1, yTrack, phi2Ticks, d3.format(".1f"), false);

// ---- panel 2: radial velocity ----
const p2 = makePanel("clip2", yVrad);
p2.plot.append("g").selectAll("circle")
    .data(modelVrad)
    .join("circle")
    .attr("cx", d => x(d[0]))
    .attr("cy", d => yVrad(d[1]))
    .attr("r", 4)
    .attr("fill", green);
p2.plot.append("path")
    .datum(orbitVrad)
    .attr("fill", "none")
    .attr("stroke", purple)
    .attr("stroke-width", 4)
    .attr("d", d3.line().x(d => x(d[0])).y(d => yVrad(d[1])).curve(d3.curveMonotoneX));
finishPanel(p2, yVrad, vTicks, d3.format("d"), false);

// ---- panel 3: delta Vrad ----
const p3 = makePanel("clip3", yDv);
p3.plot.append("g").selectAll("circle")
    .data(dvPts)
    .join("circle")
    .attr("cx", d => x(d[0]))
    .attr("cy", d => yDv(d[1]))
    .attr("r", 2.7)
    .attr("fill", green);
finishPanel(p3, yDv, dvTicks, d3.format("d"), true);

// ---- axis labels ----
const labelSize = 26;
mathText(svg.append("g").attr("transform", "translate(39,147) rotate(-90)"),
    [{ t: "ϕ", it: true }, { t: "2", sub: true }, { t: " [deg]" }], labelSize);
mathText(svg.append("g").attr("transform", "translate(33,441.5) rotate(-90)"),
    [{ t: "V" }, { t: "rad", it: true, sub: true }, { t: " [km s" }, { t: "−1", sup: true }, { t: "]" }], labelSize);
mathText(svg.append("g").attr("transform", "translate(59,736) rotate(-90)"),
    [{ t: "ΔV" }, { t: "rad", it: true, sub: true }, { t: " [km s" }, { t: "−1", sup: true }, { t: "]" }], labelSize);
mathText(svg.append("g").attr("transform", "translate(535,926)"),
    [{ t: "ϕ", it: true }, { t: "1", sub: true }, { t: " [deg]" }], labelSize);

// ---- legends ----
const leg1 = svg.append("g");
leg1.append("rect")
    .attr("x", 622).attr("y", 20).attr("width", 335).attr("height", 70).attr("rx", 4)
    .attr("fill", "#fff").attr("fill-opacity", 0.8)
    .attr("stroke", "#d4d4d4").attr("stroke-width", 1.2);
leg1.append("circle").attr("cx", 653).attr("cy", 39).attr("r", 2.2).attr("fill", orange).attr("fill-opacity", 0.8);
leg1.append("circle").attr("cx", 653).attr("cy", 71.5).attr("r", 2.2).attr("fill", green);
leg1.append("text").attr("x", 693).attr("y", 46).style("font-size", "22px").text("Identified Stream Track");
leg1.append("text").attr("x", 693).attr("y", 78).style("font-size", "22px").text("GD1 Model");

const leg2 = svg.append("g");
leg2.append("rect")
    .attr("x", 731).attr("y", 314).attr("width", 226).attr("height", 39).attr("rx", 4)
    .attr("fill", "#fff").attr("fill-opacity", 0.8)
    .attr("stroke", "#d4d4d4").attr("stroke-width", 1.2);
leg2.append("line").attr("x1", 738).attr("x2", 786).attr("y1", 331.5).attr("y2", 331.5)
    .attr("stroke", purple).attr("stroke-width", 4);
leg2.append("text").attr("x", 802).attr("y", 340).style("font-size", "22px").text("Orbit of GD-1");
</script>
</body>
</html>
